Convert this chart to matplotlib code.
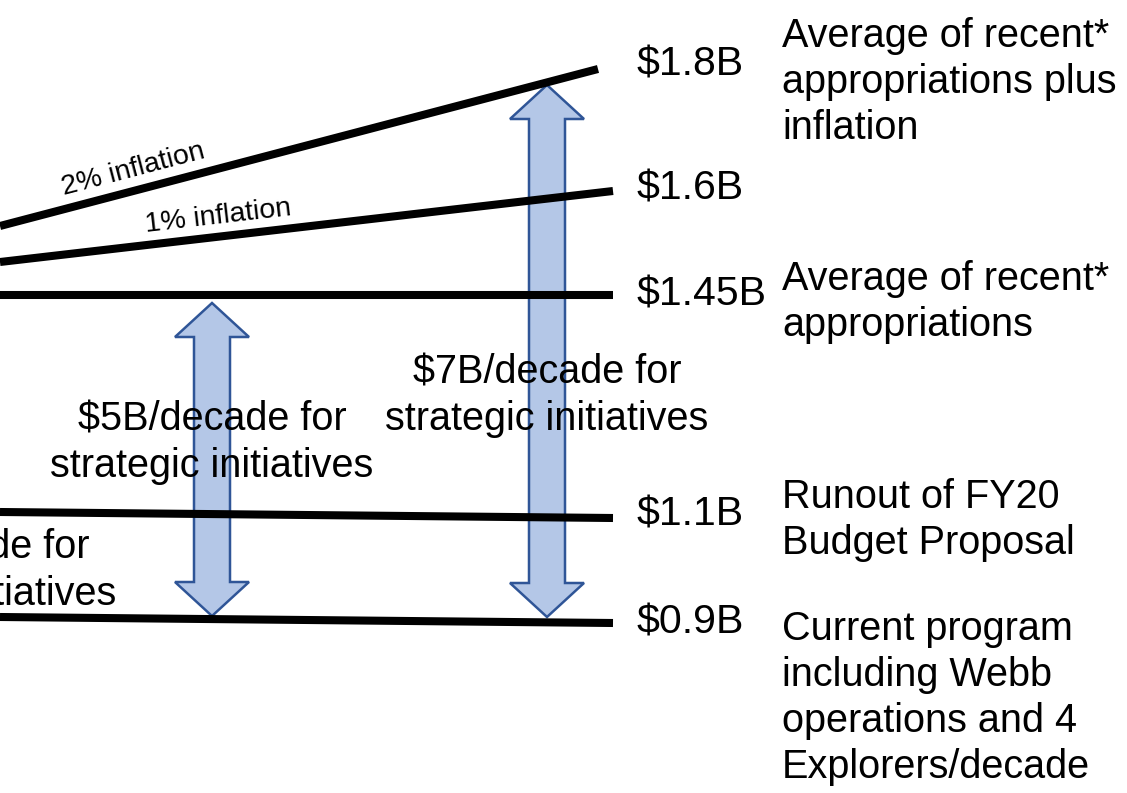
import numpy as np
import matplotlib.pyplot as plt
from matplotlib.patches import Polygon

plt.rcParams["font.family"] = ["Liberation Sans", "DejaVu Sans"]

# budget levels (right end) and their lines, in slide units (x right, y down)
levels = ["$1.8B", "$1.6B", "$1.45B", "$1.1B", "$0.9B"]
line_x_end = [598, 613, 613, 613, 613]
line_y_start = [226, 262, 295, 512, 617]
line_y_end = [69, 191, 295, 518, 623]
level_label_y = [65, 188, 295, 515, 622]

# descriptions to the right of the levels
notes = [
    "Average of recent*\nappropriations plus\ninflation",
    "Average of recent*\nappropriations",
    "Runout of FY20\nBudget Proposal",
    "Current program\nincluding Webb\noperations and 4\nExplorers/decade",
]
note_y = [82, 302, 520, 698]

# inflation labels sitting on the sloped lines
infl_text = ["2% inflation", "1% inflation"]
infl_pos = [(133, 170), (218, 217)]
infl_line = [0, 1]

# double arrows: centre x, top tip, bottom tip, label
arrow_x = [212, 547]
arrow_top = [303, 85]
arrow_bottom = [616, 617]
arrow_text = ["$5B/decade for\nstrategic initiatives", "$7B/decade for\nstrategic initiatives"]
arrow_text_y = [443, 396]


def double_arrow(ax, xc, top, bottom, shaft=36, head=74, head_len=34):
    s, h = shaft / 2, head / 2
    pts = [
        (xc, top), (xc + h, top + head_len), (xc + s, top + head_len),
        (xc + s, bottom - head_len), (xc + h, bottom - head_len), (xc, bottom),
        (xc - h, bottom - head_len), (xc - s, bottom - head_len),
        (xc - s, top + head_len), (xc - h, top + head_len),
    ]
    ax.add_patch(Polygon(pts, closed=True, facecolor="#B4C7E7",
                         edgecolor="#2F5597", linewidth=1.8, zorder=1))


fig = plt.figure(figsize=(11.27, 7.93), dpi=100)
ax = fig.add_axes([0, 0, 1, 1])
ax.set_xlim(0, 1127)
ax.set_ylim(793, 0)
ax.axis("off")

for xc, t, b in zip(arrow_x, arrow_top, arrow_bottom):
    double_arrow(ax, xc, t, b)

for xe, y0, y1 in zip(line_x_end, line_y_start, line_y_end):
    ax.plot([0, xe], [y0, y1], color="black", linewidth=5.8,
            solid_capstyle="butt", zorder=3)

for lab, y in zip(levels, level_label_y):
    ax.text(637, y, lab, fontsize=29.5, ha="left", va="center", zorder=4)

for note, y in zip(notes, note_y):
    ax.text(782, y, note, fontsize=28.5, ha="left", va="center",
            linespacing=1.27, zorder=4)

# rotate each inflation label to follow its line
for txt, (x, y), i in zip(infl_text, infl_pos, infl_line):
    slope = (line_y_end[i] - line_y_start[i]) / line_x_end[i]
    ang = np.degrees(np.arctan(-slope))
    ax.text(x, y, txt, fontsize=20.5, ha="center", va="center",
            rotation=ang, rotation_mode="anchor", zorder=4)

for txt, xc, y in zip(arrow_text, arrow_x, arrow_text_y):
    ax.text(xc, y, txt, fontsize=28.5, ha="center", va="center",
            linespacing=1.27, zorder=4)

# third arrow label runs off the left side of the slide
ax.text(-45, 571, "$2B/decade for\nstrategic initiatives", fontsize=28.5,
        ha="center", va="center", linespacing=1.27, zorder=4, clip_on=True)

fig.savefig("out.png", dpi=100)
